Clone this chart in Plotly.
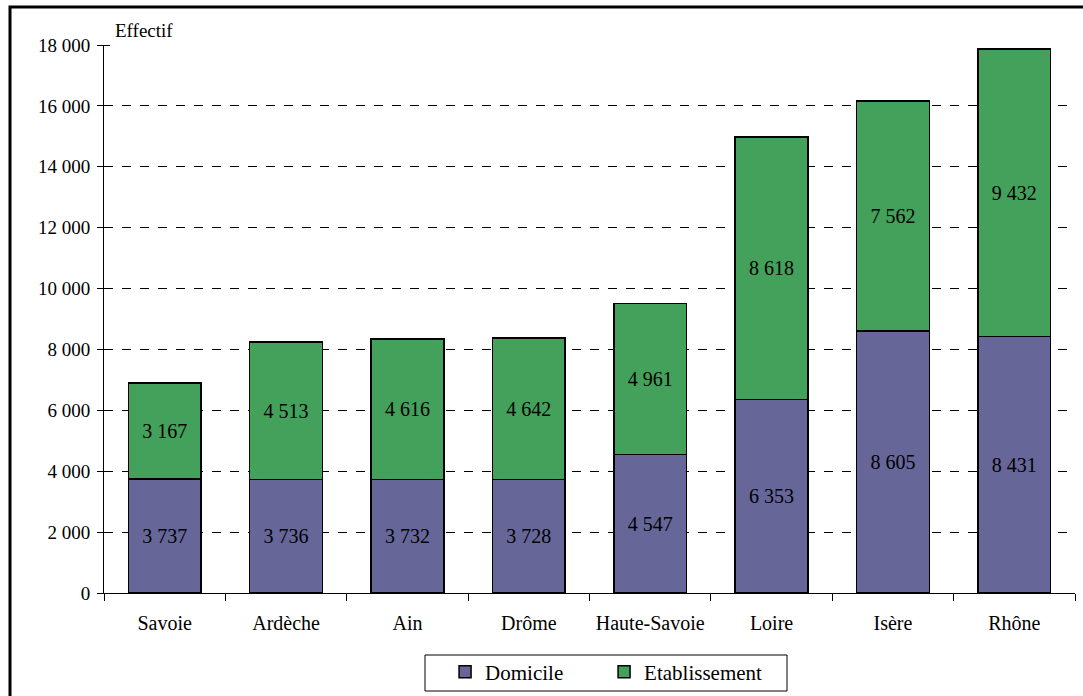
import plotly.graph_objects as go

categories = ["Savoie", "Ardèche", "Ain", "Drôme", "Haute-Savoie", "Loire", "Isère", "Rhône"]
domicile = [3737, 3736, 3732, 3728, 4547, 6353, 8605, 8431]
etablissement = [3167, 4513, 4616, 4642, 4961, 8618, 7562, 9432]
y_ticks = [0, 2000, 4000, 6000, 8000, 10000, 12000, 14000, 16000, 18000]

FONT = "Liberation Serif, DejaVu Serif, serif"

fig = go.Figure()
fig.add_trace(go.Bar(
    name="Domicile", x=categories, y=domicile,
    marker=dict(color="#666699", line=dict(color="black", width=1.5)),
    texttemplate="%{y:,d}", textposition="inside", insidetextanchor="middle",
    textfont=dict(family=FONT, size=20, color="black"), constraintext="none",
))
fig.add_trace(go.Bar(
    name="Etablissement", x=categories, y=etablissement,
    marker=dict(color="#43A15B", line=dict(color="black", width=1.5)),
    texttemplate="%{y:,d}", textposition="inside", insidetextanchor="middle",
    textfont=dict(family=FONT, size=20, color="black"), constraintext="none",
))

fig.update_layout(
    width=1083, height=696,
    barmode="stack", bargap=0.4,
    separators=", ",
    paper_bgcolor="white", plot_bgcolor="white",
    font=dict(family=FONT, size=20, color="black"),
    margin=dict(l=104, r=8, t=45, b=103, autoexpand=False),
    showlegend=True,
    legend=dict(
        orientation="h", x=0.515, xanchor="center", y=-0.107, yanchor="top",
        borderwidth=0, bgcolor="rgba(0,0,0,0)",
        font=dict(family=FONT, size=21, color="black"),
        itemwidth=30, entrywidth=114, traceorder="normal",
    ),
    uniformtext=dict(mode=False),
)
fig.update_xaxes(
    showline=True, linecolor="black", linewidth=1,
    ticks="outside", tickson="boundaries", ticklen=7, tickcolor="black",
    tickfont=dict(family=FONT, size=20), showgrid=False,
    ticklabelstandoff=12,
)
fig.update_yaxes(
    range=[0, 18000], tickvals=y_ticks, tickformat=",d",
    showline=True, linecolor="black", linewidth=1,
    ticks="outside", ticklen=6, tickcolor="black",
    tickfont=dict(family=FONT, size=19),
    showgrid=True, gridcolor="black", gridwidth=1, griddash="dash",
    zeroline=False, ticklabelstandoff=3,
    minor=dict(tickvals=y_ticks, ticks="inside", ticklen=6,
               tickcolor="black", showgrid=False),
)
fig.add_annotation(
    text="Effectif", xref="paper", yref="paper", x=0.009, y=1.003,
    xanchor="left", yanchor="bottom", showarrow=False,
    font=dict(family=FONT, size=19, color="black"),
)
# legend frame
fig.add_shape(
    type="rect", xref="paper", yref="paper",
    x0=(425 - 104) / 971, x1=(787 - 104) / 971,
    y0=(593 - 691) / 548, y1=(593 - 655) / 548,
    line=dict(color="black", width=1), fillcolor="white", layer="below",
)
# outer frame
fig.add_shape(
    type="rect", xref="paper", yref="paper",
    x0=(10 - 104) / 971, x1=(1095 - 104) / 971,
    y0=(593 - 705) / 548, y1=(593 - 7) / 548,
    line=dict(color="black", width=3), layer="below",
)
fig.write_html("out.html", post_script="document.body.style.margin='0';",
               config={"displayModeBar": False})
